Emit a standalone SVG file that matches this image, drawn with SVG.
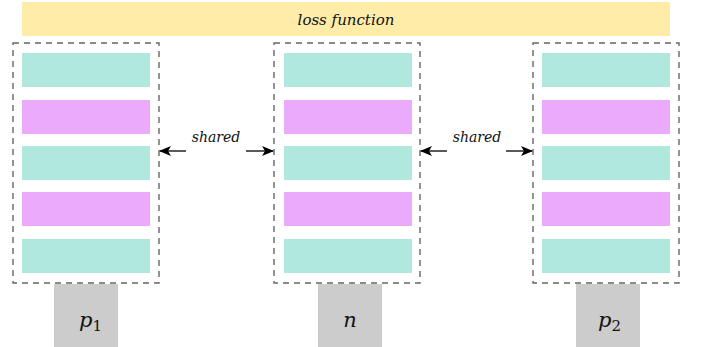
<svg xmlns="http://www.w3.org/2000/svg" width="702" height="347" viewBox="0 0 702 347">
<defs>
<style>
.loss{fill:#feeca8}
.teal{fill:#b0e8de}
.pink{fill:#ebaafc}
.frame{fill:none;stroke:#666;stroke-width:1.4;stroke-dasharray:6,5}
.gray{fill:#cccccc}
.t{font-family:'DejaVu Serif', 'Liberation Serif', serif;font-style:italic;fill:#111}
.con{stroke:#000;stroke-width:1.3;fill:none}
</style>
<marker id="ah" markerWidth="12" markerHeight="10" refX="11" refY="5" orient="auto" markerUnits="userSpaceOnUse">
<path d="M0,0 L12,5 L0,10 L3,5 Z" fill="#000"/>
</marker>
</defs>
<g id="loss">
<rect class="loss" x="22" y="2" width="648" height="34"/>
<text class="t" x="346" y="25" font-size="15" text-anchor="middle">loss function</text>
</g>
<g id="col-p1">
<rect class="frame" x="13" y="43" width="146" height="240"/>
<rect class="teal" x="22" y="53" width="128" height="34"/>
<rect class="pink" x="22" y="100" width="128" height="34"/>
<rect class="teal" x="22" y="146" width="128" height="34"/>
<rect class="pink" x="22" y="192" width="128" height="34"/>
<rect class="teal" x="22" y="239" width="128" height="34"/>
</g>
<g id="col-n">
<rect class="frame" x="274" y="43" width="146" height="240"/>
<rect class="teal" x="284" y="53" width="128" height="34"/>
<rect class="pink" x="284" y="100" width="128" height="34"/>
<rect class="teal" x="284" y="146" width="128" height="34"/>
<rect class="pink" x="284" y="192" width="128" height="34"/>
<rect class="teal" x="284" y="239" width="128" height="34"/>
</g>
<g id="col-p2">
<rect class="frame" x="533" y="43" width="146" height="240"/>
<rect class="teal" x="542" y="53" width="128" height="34"/>
<rect class="pink" x="542" y="100" width="128" height="34"/>
<rect class="teal" x="542" y="146" width="128" height="34"/>
<rect class="pink" x="542" y="192" width="128" height="34"/>
<rect class="teal" x="542" y="239" width="128" height="34"/>
</g>
<g id="p1">
<rect class="gray" x="54" y="284" width="64" height="63"/>
<text class="t" x="79" y="327" font-size="21">p<tspan font-style="normal" font-size="15" dy="4">1</tspan></text>
</g>
<g id="n">
<rect class="gray" x="318" y="284" width="64" height="63"/>
<text class="t" x="350" y="327" font-size="21" text-anchor="middle">n</text>
</g>
<g id="p2">
<rect class="gray" x="576" y="284" width="64" height="63"/>
<text class="t" x="598" y="327" font-size="21">p<tspan font-style="normal" font-size="15" dy="4">2</tspan></text>
</g>
<g id="connectors">
<line class="con" x1="186" y1="151" x2="160" y2="151" marker-end="url(#ah)"/>
<line class="con" x1="246" y1="151" x2="273" y2="151" marker-end="url(#ah)"/>
<text class="t" x="216" y="142" font-size="14" text-anchor="middle">shared</text>
<line class="con" x1="447" y1="151" x2="421" y2="151" marker-end="url(#ah)"/>
<line class="con" x1="506" y1="151" x2="532" y2="151" marker-end="url(#ah)"/>
<text class="t" x="477" y="142" font-size="14" text-anchor="middle">shared</text>
</g>
</svg>
